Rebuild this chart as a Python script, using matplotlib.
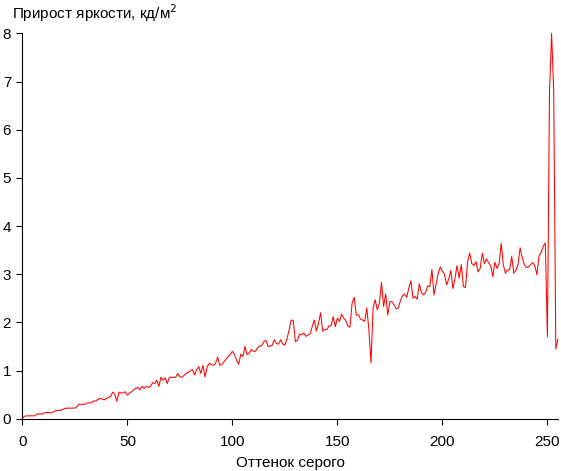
import numpy as np
from matplotlib import pyplot as plt

plt.rcParams['font.family'] = ['Liberation Sans', 'DejaVu Sans']

# brightness increment per grey level
increment = [
    0.01, 0.05, 0.06, 0.06, 0.06, 0.06, 0.06, 0.10, 0.10, 0.10,
    0.10, 0.13, 0.13, 0.13, 0.12, 0.15, 0.17, 0.17, 0.17, 0.19,
    0.21, 0.22, 0.22, 0.22, 0.22, 0.22, 0.25, 0.30, 0.30, 0.30,
    0.30, 0.33, 0.33, 0.33, 0.37, 0.37, 0.40, 0.42, 0.41, 0.39,
    0.42, 0.44, 0.46, 0.55, 0.51, 0.36, 0.55, 0.53, 0.54, 0.56,
    0.49, 0.53, 0.56, 0.60, 0.63, 0.65, 0.60, 0.67, 0.63, 0.67,
    0.65, 0.67, 0.75, 0.73, 0.80, 0.67, 0.86, 0.80, 0.85, 0.73,
    0.86, 0.86, 0.86, 0.86, 0.94, 0.87, 0.86, 0.90, 0.94, 0.96,
    1.00, 1.02, 0.91, 1.02, 1.08, 0.94, 1.11, 0.87, 1.08, 1.15,
    1.12, 1.11, 1.15, 1.28, 1.11, 1.13, 1.18, 1.24, 1.29, 1.33,
    1.40, 1.33, 1.22, 1.13, 1.34, 1.29, 1.50, 1.33, 1.36, 1.44,
    1.40, 1.40, 1.47, 1.51, 1.52, 1.60, 1.63, 1.50, 1.51, 1.53,
    1.64, 1.56, 1.55, 1.64, 1.55, 1.53, 1.66, 1.84, 2.05, 2.04,
    1.60, 1.63, 1.76, 1.74, 1.78, 1.71, 1.74, 1.76, 1.91, 2.05,
    1.82, 1.98, 2.20, 1.82, 1.85, 1.85, 1.93, 1.93, 2.12, 1.91,
    2.09, 2.02, 2.17, 2.09, 2.04, 1.92, 1.90, 2.40, 2.52, 2.15,
    2.16, 2.07, 2.05, 2.02, 2.30, 1.85, 1.16, 2.30, 2.47, 2.26,
    2.40, 2.83, 2.33, 2.59, 2.15, 2.43, 2.43, 2.36, 2.28, 2.30,
    2.45, 2.55, 2.59, 2.52, 2.71, 2.86, 2.50, 2.54, 2.48, 2.80,
    2.62, 2.57, 2.62, 2.76, 2.74, 3.10, 2.57, 2.80, 3.02, 3.15,
    3.06, 3.00, 2.78, 2.90, 3.08, 2.70, 2.92, 3.18, 2.92, 3.20,
    2.75, 2.72, 3.26, 3.44, 3.22, 3.18, 3.26, 3.05, 3.12, 3.44,
    3.22, 3.32, 3.24, 3.18, 2.95, 3.25, 3.12, 3.22, 3.64, 3.20,
    3.02, 3.09, 3.09, 3.37, 3.02, 3.08, 3.20, 3.55, 3.35, 3.20,
    3.14, 3.15, 3.20, 3.24, 3.18, 2.99, 3.38, 3.45, 3.58, 3.65,
    1.70, 6.80, 8.00, 6.80, 1.45, 1.65,
]
grey = np.arange(len(increment))

x_ticks = [0, 50, 100, 150, 200, 250]
y_ticks = [0, 1, 2, 3, 4, 5, 6, 7, 8]

fig = plt.figure(figsize=(5.61, 4.71), dpi=100)
ax = fig.add_axes([0.0398, 0.111, 0.9547, 0.818])

ax.plot(grey, increment, color='#ff0000', linewidth=0.75, clip_on=False)

ax.set_xlim(0, 255)
ax.set_ylim(0, 8)
ax.set_xticks(x_ticks)
ax.set_yticks(y_ticks)
ax.spines['top'].set_visible(False)
ax.spines['right'].set_visible(False)
for s in ['left', 'bottom']:
    ax.spines[s].set_linewidth(0.8)
ax.tick_params(direction='out', length=4, width=0.8, labelsize=11)
ax.tick_params(axis='x', pad=8)
ax.tick_params(axis='y', pad=4)

ax.set_xlabel('Оттенок серого', fontsize=11, labelpad=5)
fig.text(0.021, 0.972, 'Прирост яркости, кд/м$^2$', fontsize=11,
         ha='left', va='center')

fig.savefig('out.png', dpi=100)
